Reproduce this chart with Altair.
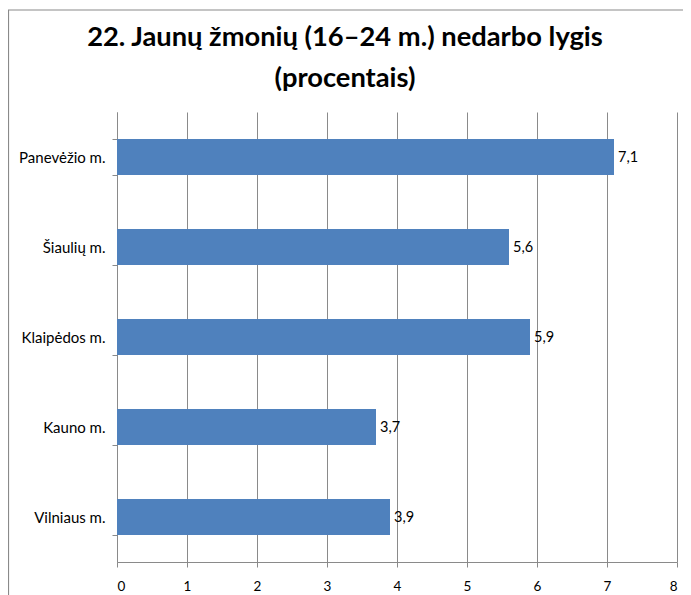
import altair as alt
import pandas as pd

cities = ["Panevėžio m.", "Šiaulių m.", "Klaipėdos m.", "Kauno m.", "Vilniaus m."]
values = [7.1, 5.6, 5.9, 3.7, 3.9]
x_ticks = [0, 1, 2, 3, 4, 5, 6, 7, 8]
title_lines = ["22. Jaunų žmonių (16–24 m.) nedarbo lygis", "(procentais)"]

df = pd.DataFrame({"city": cities, "value": values})

FONT = "Lato"
GRAY = "#8a8a8a"

base = alt.Chart(df)

y_enc = alt.Y(
    "city:N",
    sort=cities,
    title=None,
    scale=alt.Scale(paddingInner=0.6, paddingOuter=0.3),
    axis=alt.Axis(
        tickBand="extent",
        ticks=True,
        tickSize=5,
        tickColor=GRAY,
        domainColor=GRAY,
        labelFont=FONT,
        labelFontSize=15,
        labelColor="#000000",
        labelPadding=7,
        grid=False,
    ),
)

x_enc = alt.X(
    "value:Q",
    title=None,
    scale=alt.Scale(domain=[0, 8], nice=False),
    axis=alt.Axis(
        values=x_ticks,
        format="d",
        grid=True,
        gridColor=GRAY,
        gridOpacity=1,
        tickSize=5,
        tickColor=GRAY,
        domainColor=GRAY,
        labelFont=FONT,
        labelFontSize=13.5,
        labelColor="#000000",
        labelPadding=12,
    ),
)

bars = base.mark_bar(color="#4F81BD").encode(x=x_enc, y=y_enc)

labels = base.transform_calculate(
    label="replace(format(datum.value, '.1f'), '.', ',')"
).mark_text(align="left", baseline="middle", dx=4, dy=1, font=FONT, fontSize=14.5, color="#000000").encode(
    x="value:Q", y=alt.Y("city:N", sort=cities), text="label:N"
)

border = alt.Chart(alt.Data(values=[{"a": 1}])).mark_rect(
    fill=None, stroke=GRAY, strokeWidth=1.2
).encode(
    x=alt.value(-108.5), x2=alt.value(700), y=alt.value(-102), y2=alt.value(700)
)

chart = alt.layer(border, bars, labels).properties(
    width=560,
    height=450,
    padding={"left": 109, "top": 104, "right": 6, "bottom": 33},
    autosize=alt.AutoSizeParams(type="none"),
    title=alt.TitleParams(
        text=title_lines,
        font=FONT,
        fontSize=27.3,
        fontWeight="bold",
        color="#000000",
        anchor="middle",
        frame="group",
        dx=-52,
        offset=0,
        dy=83,
        lineHeight=41,
    ),
).configure_view(stroke=None)

chart.save("out.html", embed_options={"renderer": "svg", "actions": False})
